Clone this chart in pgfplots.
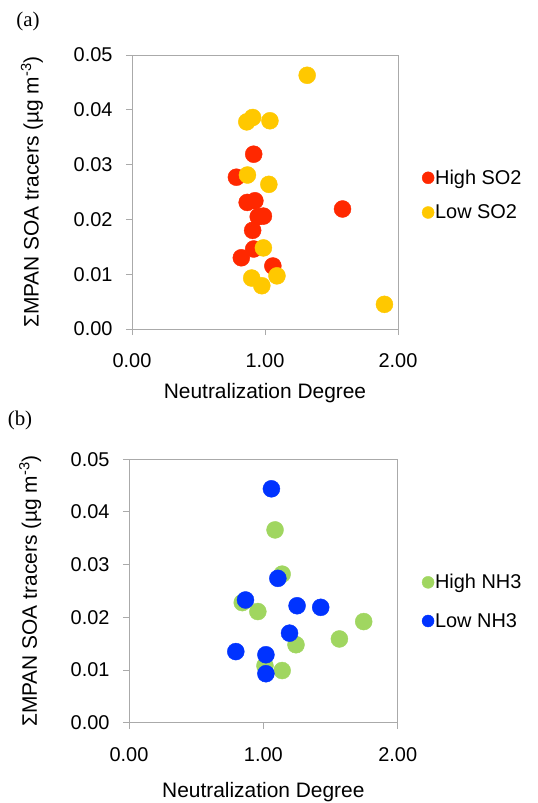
\documentclass[border=0pt]{standalone}
\usepackage{pgfplots}
\pgfplotsset{compat=1.18}
\usepackage{fontspec}
\setmainfont{Liberation Sans}
\newfontfamily\seriffont{Liberation Serif}
\definecolor{hiso}{RGB}{255,40,0}
\definecolor{loso}{RGB}{255,200,0}
\definecolor{hinh}{RGB}{160,214,96}
\definecolor{lonh}{RGB}{0,51,255}
\definecolor{axgray}{RGB}{170,170,170}
\begin{document}
\begin{tikzpicture}
\useasboundingbox (0bp,0bp) rectangle (538bp,-803bp);
\pgfplotsset{
  myaxis/.style={
    scale only axis,
    anchor=south west,
    xmin=0, xmax=2, ymin=0, ymax=0.05,
    xtick={0,1,2},
    ytick={0,0.01,0.02,0.03,0.04,0.05},
    scaled y ticks=false,
    xtick pos=left, ytick pos=left,
    tick align=outside,
    major tick length=6bp,
    axis line style={axgray, line width=1bp},
    every tick/.style={axgray, line width=1bp},
    /pgf/number format/assume math mode=true,
    xticklabel style={yshift=-15bp, /pgf/number format/.cd, fixed, fixed zerofill, precision=2},
    yticklabel style={xshift=-10bp, /pgf/number format/.cd, fixed, fixed zerofill, precision=2},
    tick label style={font=\fontsize{20}{24}\selectfont},
    label style={font=\fontsize{21}{25}\selectfont},
    xlabel={Neutralization Degree},
    ylabel={ΣMPAN SOA tracers (µg m\textsuperscript{-3})},
    legend style={draw=none, fill=none, font=\fontsize{20}{24}\selectfont, anchor=west,
      inner sep=0pt, nodes={inner sep=1bp}},
    legend cell align=left,
    legend image code/.code={\draw[##1, mark size=6bp] plot coordinates {(3bp,0bp)};},
  },
  pts/.style={only marks, mark=*, mark size=8.5bp, mark options={draw=#1, fill=#1}},
}
\begin{axis}[myaxis, at={(132bp,-329bp)}, width=266bp, height=274bp,
  xlabel style={at={(axis description cs:0.5,-0.234)}, anchor=center},
  ylabel style={at={(axis description cs:-0.376,0.5)}, anchor=center},
  legend style={at={(axis description cs:1.09,0.489)}, row sep=17bp}]
\addplot[pts=hiso] coordinates {
(0.785,0.0277) (0.915,0.0319) (0.866,0.0231) (0.924,0.0234) (0.949,0.0205)
(0.988,0.0206) (0.907,0.0180) (0.915,0.0146) (0.822,0.0130) (1.059,0.0115)
(1.583,0.0219)};
\addlegendentry{High SO2}
\addplot[pts=loso] coordinates {
(1.317,0.0463) (0.863,0.0378) (0.907,0.0386) (1.037,0.0380) (0.868,0.0281)
(1.029,0.0264) (0.988,0.0148) (0.900,0.0093) (0.976,0.0079) (1.090,0.0097)
(1.898,0.0045)};
\addlegendentry{Low SO2}
\end{axis}
\begin{axis}[myaxis, at={(129bp,-722.7bp)}, width=268.7bp, height=263.4bp,
  xlabel style={at={(axis description cs:0.5,-0.262)}, anchor=center},
  ylabel style={at={(axis description cs:-0.368,0.5)}, anchor=center},
  legend style={at={(axis description cs:1.09,0.46)}, row sep=21bp}]
\addplot[pts=hinh] coordinates {
(1.087,0.0366) (1.140,0.0282) (0.843,0.0228) (0.959,0.0211) (1.747,0.0192)
(1.566,0.0159) (1.243,0.0148) (1.012,0.0108) (1.140,0.0099)};
\addlegendentry{High NH3}
\addplot[pts=lonh] coordinates {
(1.060,0.0444) (1.108,0.0274) (0.867,0.0233) (1.251,0.0222) (1.427,0.0219)
(1.195,0.0170) (0.795,0.0135) (1.019,0.0129) (1.019,0.0093)};
\addlegendentry{Low NH3}
\end{axis}
\node[font=\seriffont\fontsize{21}{24}\selectfont] at (28bp,-21bp) {(a)};
\node[font=\seriffont\fontsize{21}{24}\selectfont] at (20bp,-420bp) {(b)};
\end{tikzpicture}
\end{document}
